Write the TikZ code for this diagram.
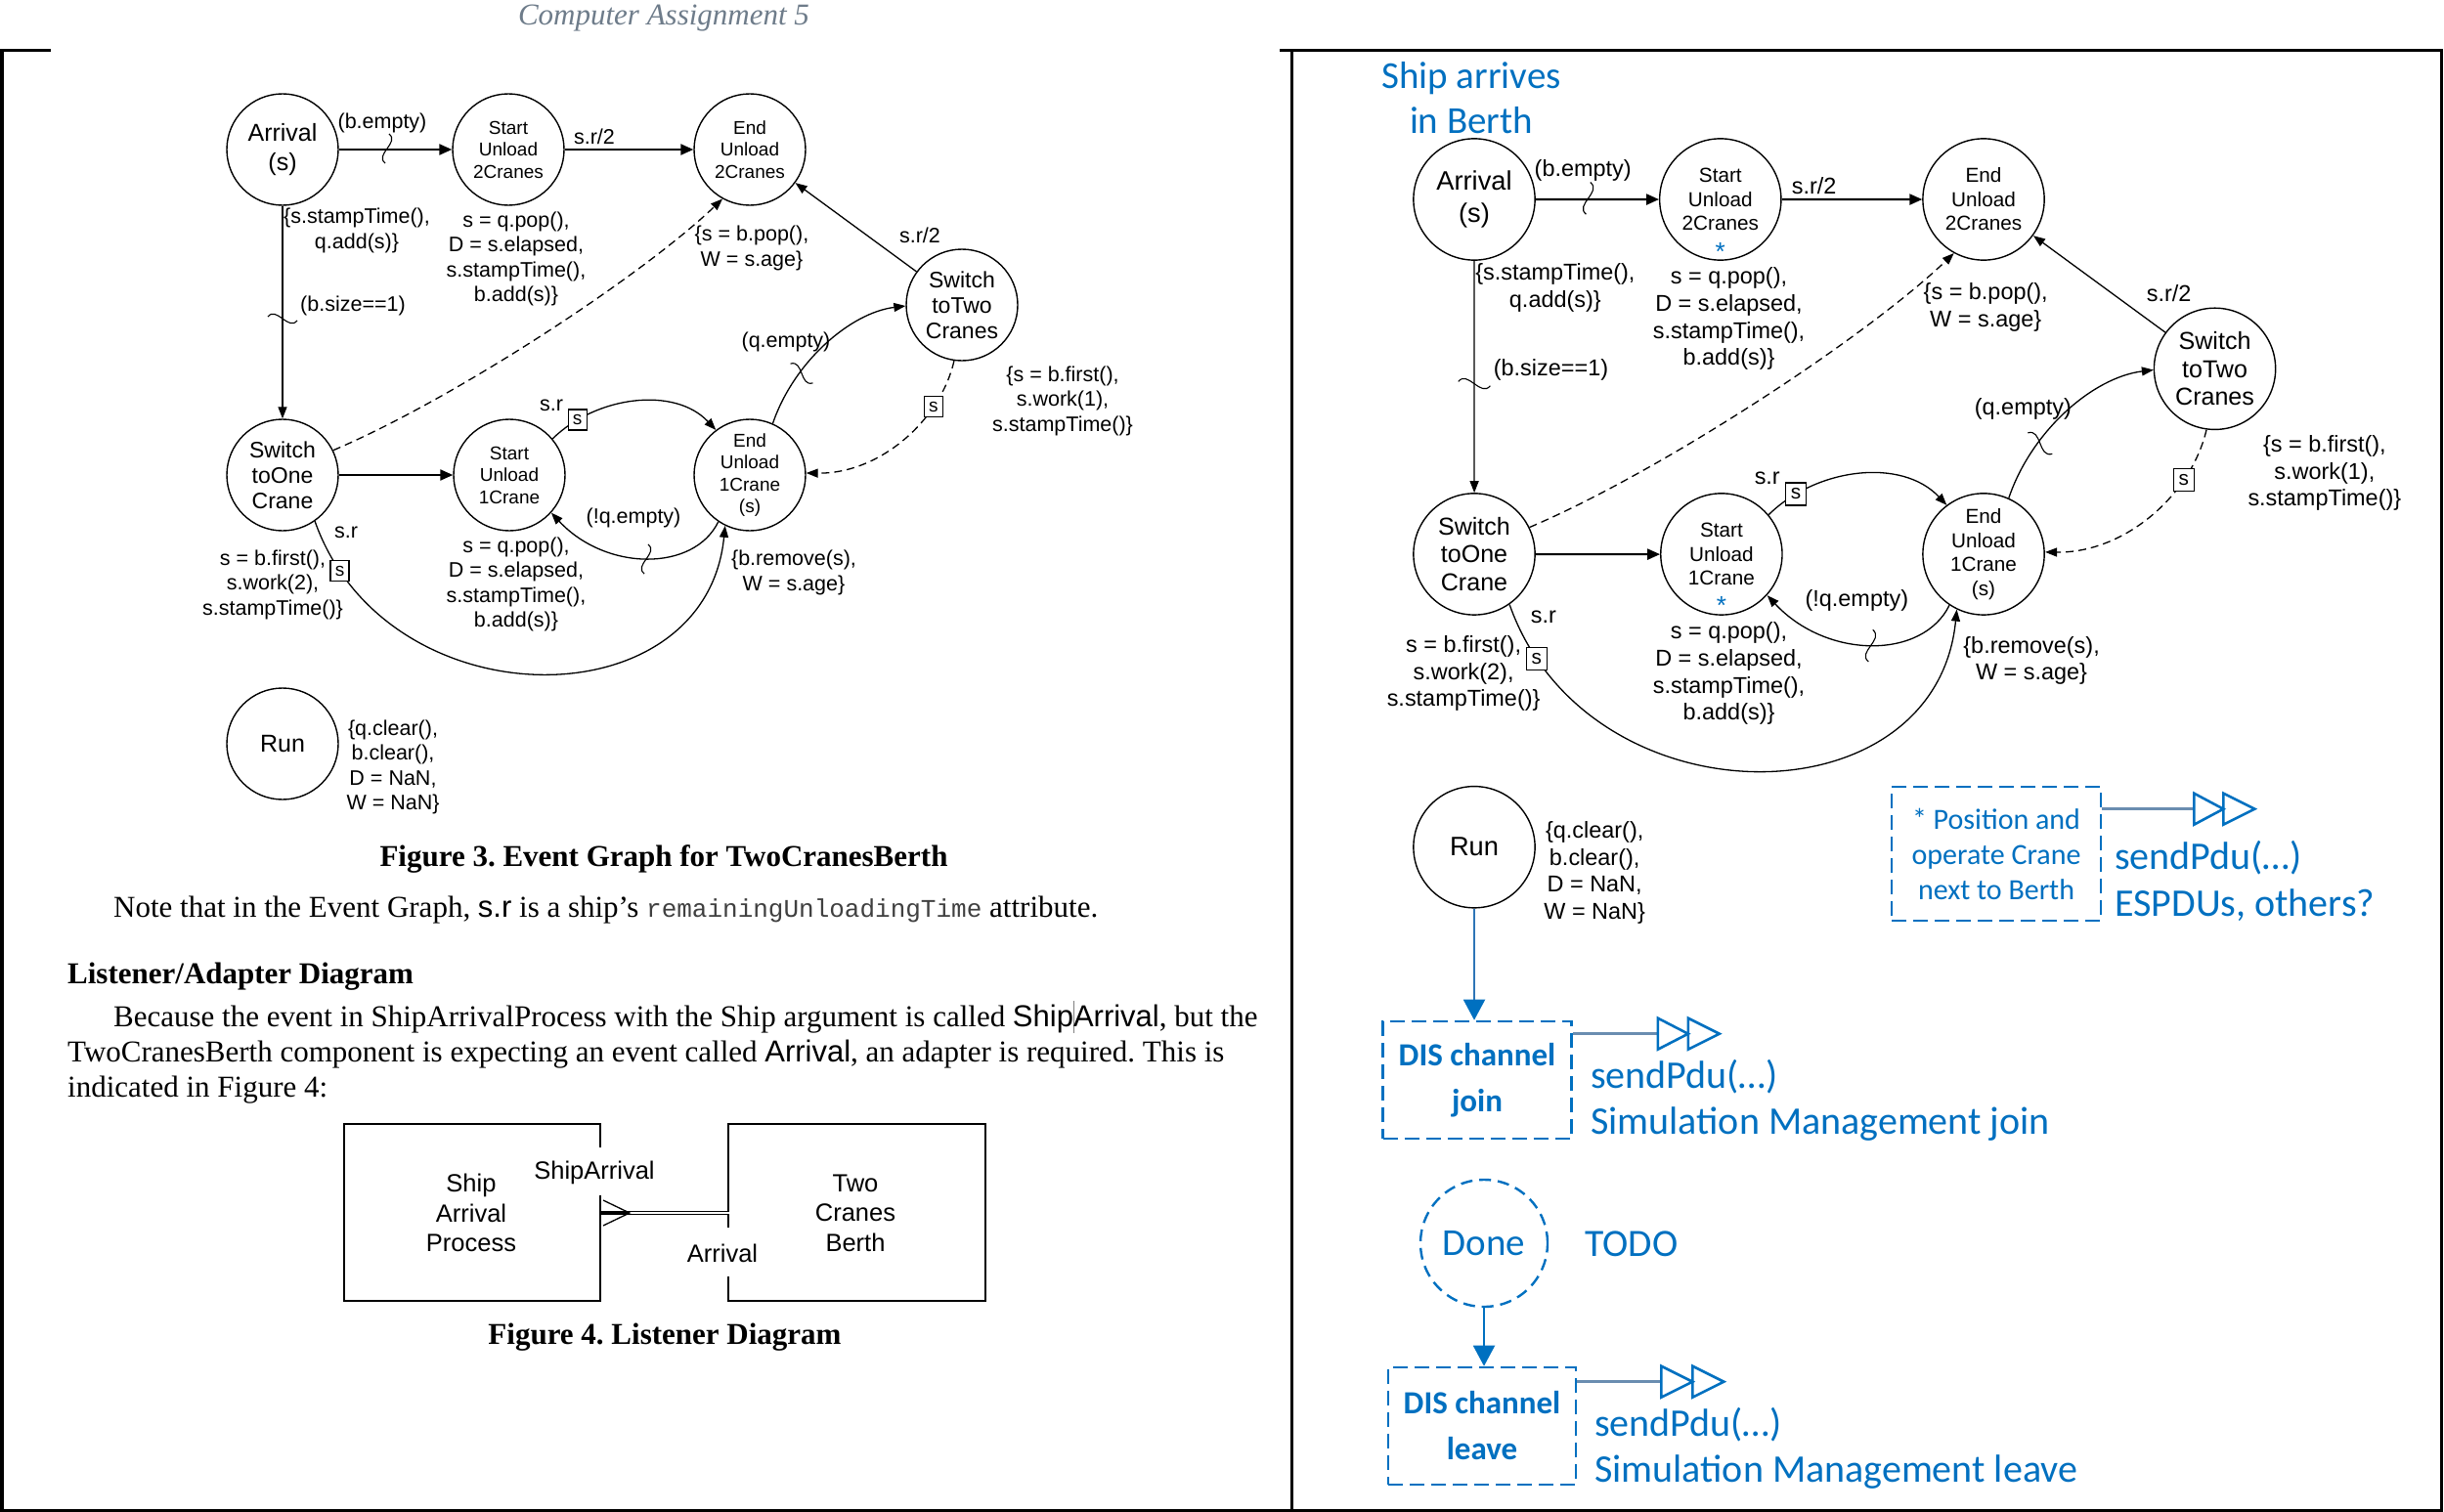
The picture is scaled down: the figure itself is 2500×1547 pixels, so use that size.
\documentclass[tikz,border=0pt]{standalone}
\usepackage{fontspec}
\setmainfont{Liberation Serif}
\setsansfont{Liberation Sans}
\setmonofont{Liberation Mono}
\newfontfamily\calibri{Carlito}
\usetikzlibrary{arrows.meta,calc}
\definecolor{msblue}{RGB}{0,112,192}
\definecolor{lnblue}{RGB}{46,117,182}
\definecolor{grayblue}{RGB}{106,141,176}
\definecolor{titlegray}{RGB}{110,124,138}
\frenchspacing

\newcommand\fsBig{\fontsize{25bp}{30bp}\selectfont}
\newcommand\fsMid{\fontsize{23bp}{26bp}\selectfont}
\newcommand\fsSml{\fontsize{19bp}{22.5bp}\selectfont}
\newcommand\fsLbl{\fontsize{21.5bp}{25.5bp}\selectfont}
\newcommand\fsBody{\fontsize{31bp}{37bp}\selectfont}
\newcommand\fsCal[2]{\fontsize{#1bp}{#2bp}\selectfont}

\tikzset{
 evc/.style={circle, draw, line width=1.4bp, minimum size=114bp, inner sep=0pt, align=center, font=\sffamily\fsSml},
 bigc/.style={evc, font=\sffamily\fsBig},
 midc/.style={evc, font=\sffamily\fsMid},
 lbl/.style={inner sep=0pt, align=center, font=\sffamily\fsLbl},
 thk/.style={line width=2.2bp, -{Triangle[length=13bp,width=11bp]}},
 thn/.style={line width=1.3bp, -{Triangle[length=12bp,width=9bp]}},
 dsh/.style={thn, dash pattern=on 8bp off 5bp},
 sbox/.style={draw, solid, fill=white, line width=1.2bp, minimum width=19bp, minimum height=21bp, inner sep=0pt, font=\sffamily\fontsize{19bp}{19bp}\selectfont},
 bstar/.style={inner sep=0pt, text=msblue, font=\sffamily\fontsize{24bp}{24bp}\selectfont},
 squig/.pic={\draw[line width=1.1bp] (2,-15) .. controls (13,-6) and (-13,6) .. (-2,15);},
 body/.style={inner sep=0pt, font=\fsBody},
 lis/.style={inner sep=0pt, align=center, font=\sffamily\fontsize{25.5bp}{30.5bp}\selectfont},
 disbox/.style={draw=msblue, dash pattern=on 15bp off 7bp, line width=2.6bp, text=msblue, align=center, inner sep=0pt, font=\calibri\bfseries\fsCal{33}{47}},
 pdu/.style={inner sep=0pt, text=msblue, align=left, font=\calibri\fsCal{40}{47}},
 tri/.style={draw=msblue, line width=2.6bp, line join=miter},
 feed/.style={draw=grayblue, line width=2.6bp},
 frame/.style={line width=3bp},
}

\newcommand\evgraph[1]{%
 \node[bigc] (A1) at (289,153) {Arrival\\(s)};
 \node[evc] (SU2) at (520,153) {Start\\Unload\\2Cranes};
 \node[evc] (EU2) at (767,153) {End\\Unload\\2Cranes};
 \node[midc] (ST2) at (984,312) {Switch\\toTwo\\Cranes};
 \node[midc] (SO1) at (289,486) {Switch\\toOne\\Crane};
 \node[evc] (SU1) at (521,486) {Start\\Unload\\1Crane};
 \node[evc] (EU1) at (767,486) {End\\Unload\\1Crane\\(s)};
 \node[bigc] (RUN) at (289,761) {Run};
 \draw[thk] (A1) -- (SU2);
 \draw[thk] (SU2) -- (EU2);
 \draw[thn] (ST2) -- (EU2);
 \draw[thn] (A1) -- (SO1);
 \draw[dsh] (SO1.26) .. controls (465,408) and (657,282) .. (EU2.241);
 \draw[dsh] (ST2.262) .. controls (962,430) and (900,485) .. (EU1.2) node[sbox,pos=0.27] (b1) {s};
 \draw[thn] (EU1.66) .. controls (812,370) and (870,320) .. (ST2.181);
 \draw[thk] (SO1) -- (SU1);
 \draw[thn] (SU1.40) .. controls (610,405) and (690,395) .. (EU1.127) node[sbox,pos=0.17] (b2) {s};
 \draw[thn] (EU1.236) .. controls (710,585) and (620,585) .. (SU1.318);
 \draw[thn] (SO1.305) .. controls (395,740) and (722,740) .. (EU1.244) node[sbox,pos=0.09] (b3) {s};
 \pic at (396,152) {squig};
 \pic[rotate=90] at (289,326) {squig};
 \pic[rotate=57] at (820,382) {squig};
 \pic at (661,572) {squig};
 \node[lbl] (l1) at (391,126) {(b.empty)};
 \node[lbl] (l2) at (608,140) {s.r/2};
 \node[lbl] (l3) at (365,236) {\{s.stampTime(),\\q.add(s)\}};
 \node[lbl] (l4) at (528,265) {s = q.pop(),\\D = s.elapsed,\\s.stampTime(),\\b.add(s)\}};
 \node[lbl] (l5) at (769,254) {\{s = b.pop(),\\W = s.age\}};
 \node[lbl] (l6) at (941,241) {s.r/2};
 \node[lbl] (l7) at (361,313) {(b.size==1)};
 \node[lbl] (l8) at (804,350) {(q.empty)};
 \node[lbl] (l9) at (1087,410) {\{s = b.first(),\\s.work(1),\\s.stampTime()\}};
 \node[lbl] (l10) at (564,415) {s.r};
 \node[lbl] (l11) at (648,530) {(!q.empty)};
 \node[lbl] (l12) at (354,545) {s.r};
 \node[lbl] (l13) at (279,598) {s = b.first(),\\s.work(2),\\s.stampTime()\}};
 \node[lbl] (l14) at (528,598) {s = q.pop(),\\D = s.elapsed,\\s.stampTime(),\\b.add(s)\}};
 \node[lbl] (l15) at (812,586) {\{b.remove(s),\\W = s.age\}};
 \node[lbl] (l16) at (402,785) {\{q.clear(),\\b.clear(),\\D = NaN,\\W = NaN\}};
 \ifnum#1=1
  \node[bstar] (st1) at (520,202) {*};
  \node[bstar] (st2) at (521,534) {*};
 \fi
}

\begin{document}
\begin{tikzpicture}[x=1bp,y=-1bp]
\useasboundingbox (0,0) rectangle (2500,1547);
\fill[white] (0,0) rectangle (2500,1547);

% frames
\draw[frame] (52,52) -- (2,52) -- (2,1545) -- (1321,1545);
\draw[frame] (1309,52) -- (2497,52) -- (2497,1545) -- (1321,1545) -- (1321,52);

% left page
\node[inner sep=0pt, text=titlegray, font=\itshape\fontsize{31bp}{31bp}\selectfont] (title) at (679,19) {Computer Assignment 5};

\begin{scope}[name prefix=L-]
 \evgraph{0}
\end{scope}

\node[body, font=\bfseries\fsBody] (cap3) at (679,879) {Figure 3. Event Graph for TwoCranesBerth};
\node[body, anchor=west] (note) at (116,931) {Note that in the Event Graph, {\sffamily s.r} is a ship’s {\ttfamily\fontsize{26bp}{26bp}\selectfont\color{darkgray}remainingUnloadingTime} attribute.};
\node[body, font=\bfseries\fsBody, anchor=west] (head) at (69,999) {Listener/Adapter Diagram};
\node[body, anchor=west] (par1) at (116,1041) {Because the event in ShipArrivalProcess with the Ship argument is called {\sffamily Ship\makebox[0pt]{\color{gray}\rule[-0.2em]{0.8bp}{1.05em}}Arrival}, but the};
\node[body, anchor=west] (par2) at (69,1079) {TwoCranesBerth component is expecting an event called {\sffamily Arrival}, an adapter is required. This is};
\node[body, anchor=west] (par3) at (69,1115) {indicated in Figure 4:};

% listener diagram
\draw[line width=1.5bp] (614,1174) -- (614,1150) -- (352,1150) -- (352,1331) -- (614,1331) -- (614,1223);
\draw[line width=1.5bp] (745,1256) -- (745,1150) -- (1008,1150) -- (1008,1331) -- (745,1331) -- (745,1306);
\node[lis] (sap) at (482,1241) {Ship\\Arrival\\Process};
\node[lis] (tcb) at (875,1241) {Two\\Cranes\\Berth};
\node[lis] (sa) at (608,1200) {ShipArrival};
\node[lis] (arr) at (739,1282) {Arrival};
\draw[double=white, double distance=2.6bp, line width=1.1bp] (615,1241) -- (746,1241);
\draw[line width=2.6bp] (615,1241) -- (642,1241);
\draw[line width=1.3bp] (617,1228) -- (644,1241) -- (617,1254);
\node[body, font=\bfseries\fsBody] (cap4) at (680,1368) {Figure 4. Listener Diagram};

% right page
\node[inner sep=0pt, text=msblue, align=center, font=\calibri\fsCal{39}{46}] (shiparr) at (1505,100) {Ship arrives\\in Berth};

\begin{scope}[name prefix=R-, shift={(1508,204)}, scale=1.09, transform shape, shift={(-289,-153)}]
 \evgraph{1}
\end{scope}

\node[disbox, minimum width=193bp, minimum height=120bp] (join) at (1511,1105) {DIS channel\\join};
\draw[line width=2bp, draw=lnblue, -{Triangle[length=21bp,width=22bp,color=msblue]}] (R-RUN.south) -- (R-RUN.south |- join.north);
\draw[feed] ($(join.north east)+(0,14)$) -- ++(87,0) coordinate (jt);
\draw[tri] (jt) -- ++(0,-16) -- ++(31,16) -- ++(-31,16) -- cycle;
\draw[tri] ($(jt)+(31,0)$) -- ++(0,-16) -- ++(32,16) -- ++(-32,16) -- cycle;
\node[pdu, anchor=west] (jtext) at (1627,1126) {sendPdu(…)\\Simulation Management join};

\node[circle, draw=msblue, dash pattern=on 12bp off 7bp, line width=2.4bp, minimum size=130bp, inner sep=0pt, text=msblue, font=\calibri\fsCal{39}{39}] (done) at (1518,1272) {Done};
\node[inner sep=0pt, text=msblue, font=\calibri\fsCal{39.6}{40}] (todo) at (1669,1273) {TODO};

\node[disbox, minimum width=192bp, minimum height=120bp] (leave) at (1516,1459) {DIS channel\\leave};
\draw[line width=2bp, draw=msblue, -{Triangle[length=21bp,width=22bp,color=msblue]}] (done.south) -- (done.south |- leave.north);
\draw[feed] ($(leave.north east)+(0,16)$) -- ++(86,0) coordinate (lt);
\draw[tri] (lt) -- ++(0,-16) -- ++(32,16) -- ++(-32,16) -- cycle;
\draw[tri] ($(lt)+(32,0)$) -- ++(0,-16) -- ++(32,16) -- ++(-32,16) -- cycle;
\node[pdu, anchor=west] (ltext) at (1631,1482) {sendPdu(…)\\Simulation Management leave};

\node[disbox, font=\calibri\fsCal{30}{36}, minimum width=214bp, minimum height=137bp] (pos) at (2042,873.5) {* Position and\\operate Crane\\next to Berth};
\draw[feed] ($(pos.north east)+(0,24)$) -- ++(94,0) coordinate (pt);
\draw[tri] (pt) -- ++(0,-16) -- ++(30,16) -- ++(-30,16) -- cycle;
\draw[tri] ($(pt)+(30,0)$) -- ++(0,-16) -- ++(32,16) -- ++(-32,16) -- cycle;
\node[pdu, anchor=west, font=\calibri\fsCal{40}{48}] (ptext) at (2163,901) {sendPdu(…)\\ESPDUs, others?};
\end{tikzpicture}
\end{document}
